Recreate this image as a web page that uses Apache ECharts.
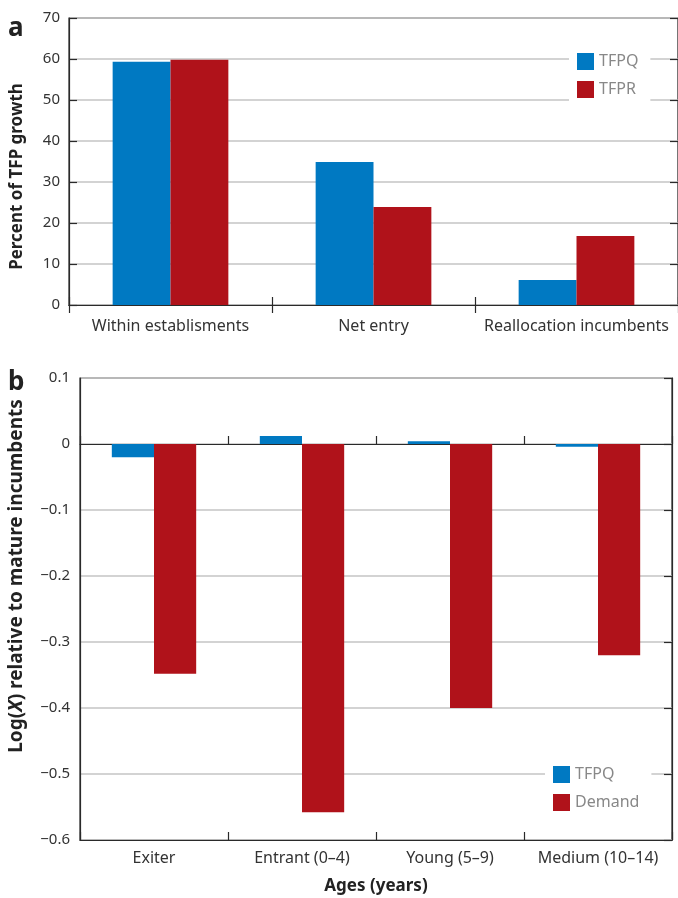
<!DOCTYPE html>
<html><head><meta charset="utf-8">
<script src="https://cdn.jsdelivr.net/npm/echarts@6/dist/echarts.min.js"></script>
<style>html,body{margin:0;padding:0;background:#fff}#c{width:678px;height:898px}</style>
</head><body><div id="c"></div>
<script>
const catsA = ['Within establisments', 'Net entry', 'Reallocation incumbents'];
const tfpqA = [59.3, 34.9, 6.1];
const tfprA = [59.8, 23.9, 16.8];
const catsB = ['Exiter', 'Entrant (0–4)', 'Young (5–9)', 'Medium (10–14)'];
const tfpqB = [-0.02, 0.012, 0.004, -0.004];
const demandB = [-0.348, -0.558, -0.40, -0.32];

const BLUE = '#0079c2', RED = '#b0121a', FRAME = '#2a2a2a', GRIDC = '#c4c4c4', TXT = '#333';
const FONT = 'Noto Sans';
const lbl = {color: TXT, fontSize: 15, fontFamily: FONT};
const catLbl = {color: TXT, fontSize: 16, fontFamily: FONT, interval: 0};
const tickIn = {show: true, inside: true, length: 8, lineStyle: {color: FRAME, width: 1.2}};
const chart = echarts.init(document.getElementById('c'));
chart.setOption({
  animation: false,
  textStyle: {fontFamily: FONT},
  grid: [
    {left: 69, top: 18, right: 0, height: 287, show: true, borderColor: FRAME, borderWidth: 1.2, outerBoundsMode: 'none', containLabel: false},
    {left: 80, top: 378, right: 6, height: 462, show: true, borderColor: FRAME, borderWidth: 1.2, outerBoundsMode: 'none', containLabel: false}
  ],
  graphic: [
    {type: 'text', left: 8, top: 16, style: {text: 'a', font: 'bold 26px "Noto Sans"', fill: '#222'}},
    {type: 'text', left: 8, top: 370, style: {text: 'b', font: 'bold 26px "Noto Sans"', fill: '#222'}}
  ],
  legend: [
    {data: ['TFPQ', 'TFPR'], orient: 'vertical', left: 569, top: 48, itemWidth: 17, itemHeight: 17, itemGap: 11,
     backgroundColor: '#fff', padding: [5, 12, 5, 8], textStyle: {color: '#888', fontSize: 16, fontFamily: FONT}, icon: 'rect', selectedMode: false},
    {data: ['TFPQ ', 'Demand'], orient: 'vertical', left: 545, top: 761, itemWidth: 17, itemHeight: 17, itemGap: 11,
     backgroundColor: '#fff', padding: [5, 12, 5, 8], textStyle: {color: '#888', fontSize: 16, fontFamily: FONT}, icon: 'rect', selectedMode: false}
  ],
  xAxis: [
    {type: 'category', gridIndex: 0, data: catsA, position: 'bottom',
     axisLine: {lineStyle: {color: FRAME, width: 1.2}}, axisTick: tickIn, axisLabel: Object.assign({margin: 13}, catLbl)},
    {type: 'category', gridIndex: 0, data: catsA, position: 'top',
     axisLine: {lineStyle: {color: FRAME, width: 1.2}}, axisTick: tickIn, axisLabel: {show: false}},
    {type: 'category', gridIndex: 1, data: catsB, position: 'bottom',
     axisLine: {onZero: false, lineStyle: {color: FRAME, width: 1.2}}, axisTick: tickIn, axisLabel: Object.assign({margin: 10}, catLbl),
     name: 'Ages (years)', nameLocation: 'middle', nameGap: 38, nameMoveOverlap: false,
     nameTextStyle: {fontWeight: 'bold', fontSize: 17, color: '#222', fontFamily: FONT}},
    {type: 'category', gridIndex: 1, data: catsB, position: 'bottom',
     axisLine: {onZero: true, lineStyle: {color: FRAME, width: 1.2}}, axisTick: tickIn, axisLabel: {show: false}}
  ],
  yAxis: [
    {type: 'value', gridIndex: 0, min: 0, max: 70, interval: 10, position: 'left',
     axisLine: {show: true, lineStyle: {color: FRAME, width: 1.2}}, axisTick: tickIn,
     axisLabel: Object.assign({margin: 9}, lbl),
     splitLine: {show: true, lineStyle: {color: GRIDC, width: 1.5}},
     name: 'Percent of TFP growth', nameLocation: 'middle', nameGap: 43, nameMoveOverlap: false,
     nameTextStyle: {fontWeight: 'bold', fontSize: 17, color: '#222', fontFamily: FONT, padding: [0, 30, 0, 0]}},
    {type: 'value', gridIndex: 0, min: 0, max: 70, interval: 10, position: 'right',
     axisLine: {show: true, lineStyle: {color: FRAME, width: 1.2}}, axisTick: tickIn,
     axisLabel: {show: false}, splitLine: {show: false}},
    {type: 'value', gridIndex: 1, min: -0.6, max: 0.1, interval: 0.1, position: 'left',
     axisLine: {show: true, lineStyle: {color: FRAME, width: 1.2}}, axisTick: {show: false},
     axisLabel: Object.assign({margin: 10, formatter: v => {
       const r = Math.round(v * 10) / 10; return r === 0 ? '0' : (r < 0 ? '−' : '') + Math.abs(r).toFixed(1);
     }}, lbl),
     splitLine: {show: true, lineStyle: {color: GRIDC, width: 1.5}},
     name: 'Log({i|X}) relative to mature incumbents', nameLocation: 'middle', nameGap: 54, nameMoveOverlap: false,
     nameTextStyle: {fontWeight: 'bold', fontSize: 19, color: '#222', fontFamily: FONT, padding: [0, 0, 0, 66],
       rich: {i: {fontStyle: 'italic', fontWeight: 'bold', fontSize: 19, color: '#222', fontFamily: FONT}}}},
    {type: 'value', gridIndex: 1, min: -0.6, max: 0.1, interval: 0.1, position: 'right',
     axisLine: {show: true, lineStyle: {color: FRAME, width: 1.2}}, axisTick: tickIn,
     axisLabel: {show: false}, splitLine: {show: false}}
  ],
  series: [
    {name: 'TFPQ', type: 'bar', xAxisIndex: 0, yAxisIndex: 0, data: tfpqA, itemStyle: {color: BLUE}, barGap: '0%', barCategoryGap: '43%'},
    {name: 'TFPR', type: 'bar', xAxisIndex: 0, yAxisIndex: 0, data: tfprA, itemStyle: {color: RED}, barGap: '0%', barCategoryGap: '43%'},
    {name: 'TFPQ ', type: 'bar', xAxisIndex: 2, yAxisIndex: 2, data: tfpqB, itemStyle: {color: BLUE}, barGap: '0%', barCategoryGap: '43%'},
    {name: 'Demand', type: 'bar', xAxisIndex: 2, yAxisIndex: 2, data: demandB, itemStyle: {color: RED}, barGap: '0%', barCategoryGap: '43%'}
  ]
});
</script></body></html>
